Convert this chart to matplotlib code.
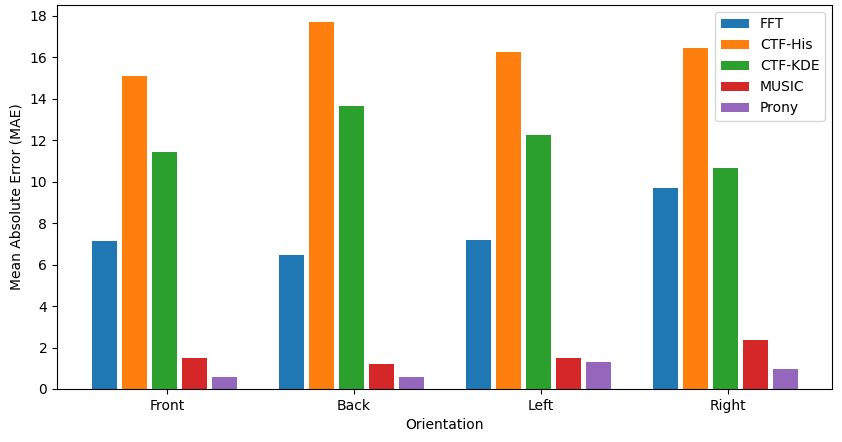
import numpy as np
import matplotlib
matplotlib.use("Agg")
import matplotlib.pyplot as plt

orientations = ["Front", "Back", "Left", "Right"]
methods = ["FFT", "CTF-His", "CTF-KDE", "MUSIC", "Prony"]

fft = [7.14, 6.47, 7.19, 9.70]
ctf_his = [15.11, 17.71, 16.26, 16.46]
ctf_kde = [11.44, 13.66, 12.26, 10.67]
music = [1.50, 1.21, 1.50, 2.36]
prony = [0.58, 0.58, 1.30, 0.97]

series = [fft, ctf_his, ctf_kde, music, prony]

fig = plt.figure(figsize=(8.42, 4.42), dpi=100)
ax = fig.add_axes([0.0677, 0.12, 0.9203, 0.8687])

x = np.arange(len(orientations))
step = 0.16
width = 0.134
for i, (name, vals) in enumerate(zip(methods, series)):
    ax.bar(x + (i - 2) * step - 0.013, vals, width, label=name)

ax.set_xticks(x)
ax.set_xticklabels(orientations)
ax.set_xlim(-0.588, 3.556)
ax.set_ylim(0, 18.53)
ax.set_yticks(np.arange(0, 19, 2))
ax.set_xlabel("Orientation")
ax.set_ylabel("Mean Absolute Error (MAE)")
ax.legend(loc="upper right")

fig.savefig("out.png", dpi=100)
